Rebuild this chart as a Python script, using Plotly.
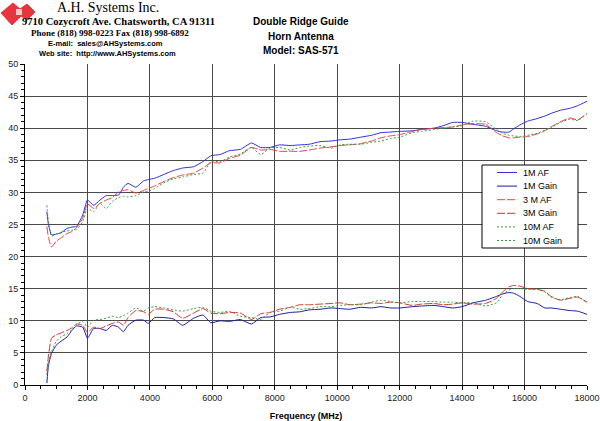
import plotly.graph_objects as go

freq = [700, 750, 850, 1000, 1150, 1350, 1500, 1650, 1850, 2000, 2200, 2400, 2600, 2800, 3000,
        3150, 3300, 3550, 3800, 3950, 4150, 4450, 4750, 5050, 5400, 5700, 5950, 6250, 6550, 6900,
        7250, 7550, 7850, 8150, 8500, 8800, 9100, 9450, 9800, 10100, 10400, 10750, 11100, 11400,
        11700, 12000, 12400, 12700, 13100, 13400, 13700, 14000, 14350, 14750, 15100, 15300, 15500,
        15650, 15850, 16100, 16400, 16650, 16850, 17150, 17450, 17700, 18000]

af_1m = [27.0, 25.0, 23.4, 23.5, 23.7, 24.4, 24.6, 24.7, 26.5, 28.8, 28.0, 28.8, 29.5, 29.5, 29.6,
         30.8, 31.4, 30.8, 31.8, 32.0, 32.2, 32.8, 33.4, 33.8, 34.0, 34.8, 35.7, 35.9, 36.5, 36.7,
         37.7, 37.0, 37.0, 37.4, 37.3, 37.4, 37.5, 37.9, 38.0, 38.2, 38.3, 38.6, 38.9, 39.3,
         39.4, 39.5, 39.6, 39.8, 40.0, 40.4, 40.9, 40.9, 40.6, 40.3, 39.6, 39.4, 39.4,
         39.9, 40.5, 41.1, 41.5, 41.9, 42.3, 42.8, 43.1, 43.5, 44.2]

gain_1m = [0.3, 3.0, 4.9, 6.2, 6.8, 7.5, 8.5, 9.2, 9.0, 7.3, 8.8, 8.8, 8.5, 9.3, 9.0,
           8.3, 9.3, 10.1, 10.1, 9.6, 10.5, 10.5, 10.3, 9.3, 10.4, 10.9, 9.7, 10.0, 9.9, 10.2,
           9.5, 10.5, 10.6, 11.0, 11.3, 11.4, 11.7, 11.8, 12.0, 11.9, 11.8, 12.1, 12.0, 12.2,
           12.0, 12.0, 12.2, 12.3, 12.4, 12.2, 12.0, 12.2, 12.8, 13.2, 13.8, 14.2, 14.4,
           14.3, 13.8, 13.0, 12.7, 12.0, 12.0, 11.8, 11.6, 11.5, 11.0]

af_3m = [24.7, 23.0, 21.5, 22.4, 22.9, 23.6, 23.9, 24.5, 26.0, 28.2, 27.5, 28.3, 28.8, 29.2, 30.1,
         30.3, 30.4, 29.9, 30.3, 30.6, 31.0, 31.7, 32.3, 32.7, 33.0, 33.8, 34.6, 34.6, 35.3, 35.8,
         37.0, 36.6, 36.7, 36.4, 36.4, 36.4, 36.6, 36.9, 37.1, 37.3, 37.4, 37.6, 38.0, 38.5,
         38.8, 39.0, 39.5, 39.8, 40.0, 40.1, 40.2, 40.5, 40.7, 40.6, 39.3, 38.8, 38.5,
         38.5, 38.6, 38.7, 39.1, 39.6, 40.2, 41.0, 41.6, 41.3, 42.3]

gain_3m = [2.1, 4.5, 7.3, 7.8, 8.1, 8.5, 8.9, 9.5, 9.3, 8.2, 9.0, 8.8, 9.2, 9.6, 9.8,
           9.3, 10.5, 11.6, 11.4, 11.0, 11.8, 11.8, 11.4, 10.4, 11.2, 11.9, 11.2, 11.1, 11.3, 11.2,
           10.2, 11.1, 11.3, 11.8, 12.1, 12.5, 12.5, 12.6, 12.7, 12.8, 12.5, 12.6, 12.8, 12.7,
           12.9, 12.8, 12.4, 12.6, 12.7, 12.5, 12.6, 12.8, 12.6, 12.7, 13.5, 14.5, 15.3,
           15.5, 15.4, 15.0, 14.9, 14.6, 13.8, 13.2, 13.5, 13.7, 12.9]

af_10m = [28.0, 25.5, 23.2, 23.5, 23.8, 24.0, 24.1, 24.2, 25.5, 27.5, 27.0, 28.3, 27.5, 28.6, 29.2,
          29.4, 29.3, 29.5, 30.1, 30.2, 30.6, 31.5, 32.1, 32.4, 32.8, 33.0, 34.8, 34.8, 35.5, 36.0,
          37.0, 35.9, 36.9, 37.0, 36.6, 37.0, 37.2, 37.3, 36.9, 37.4, 37.5, 37.5, 37.8, 38.0,
          38.4, 38.6, 39.3, 39.5, 39.8, 40.0, 40.2, 40.4, 41.1, 41.0, 39.8, 39.2, 38.9,
          38.8, 38.7, 38.9, 39.2, 39.7, 40.1, 40.9, 41.4, 41.2, 42.2]

gain_10m = [1.6, 3.5, 5.2, 6.8, 7.5, 8.0, 8.6, 9.4, 9.9, 9.0, 10.1, 10.2, 10.4, 10.7, 10.5,
            10.8, 11.2, 12.0, 11.5, 12.0, 12.2, 12.0, 11.7, 11.5, 11.9, 12.1, 11.5, 11.3, 11.5, 10.7,
            10.5, 10.2, 11.3, 11.5, 12.1, 11.8, 11.9, 12.2, 12.2, 12.4, 12.5, 12.5, 12.9, 13.2,
            13.0, 12.8, 13.0, 13.0, 13.0, 12.9, 12.9, 12.8, 12.8, 12.3, 12.8, 14.1, 14.8,
            15.0, 15.0, 14.9, 14.9, 14.5, 13.7, 13.3, 13.6, 13.8, 12.8]

series_names = ["1M AF", "1M Gain", "3 M AF", "3M Gain", "10M AF", "10M Gain"]
series_values = [af_1m, gain_1m, af_3m, gain_3m, af_10m, gain_10m]
series_colors = ["#3030e0", "#1c1ca8", "#e84040", "#d83030", "#3c9a3c", "#3c9a3c"]
series_dash = ["solid", "solid", "8px,2px", "8px,2px", "2px,2px", "2px,2px"]

x_ticks = [0, 2000, 4000, 6000, 8000, 10000, 12000, 14000, 16000, 18000]
y_ticks = [0, 5, 10, 15, 20, 25, 30, 35, 40, 45, 50]

W, H = 600, 421
ML, MR, MT, MB = 25, 13, 64, 36
PW, PH = W - ML - MR, H - MT - MB


def px(x):
    return (x - ML) / PW


def py(y):
    return (H - MB - y) / PH


fig = go.Figure()
for name, vals, col, dash in zip(series_names, series_values, series_colors, series_dash):
    fig.add_trace(go.Scatter(x=freq, y=vals, name=name, mode="lines", showlegend=False,
                             line=dict(color=col, width=1, dash=dash, shape="spline", smoothing=0.5)))

SANS = "Liberation Sans, Arial, sans-serif"
SERIF = "Liberation Serif, Times New Roman, serif"

annotations = [
    dict(text="A.H. Systems Inc.", x=px(108), y=py(8), font=dict(family=SERIF, size=14, color="#000")),
    dict(text="<b>9710 Cozycroft Ave. Chatsworth, CA 91311</b>", x=px(118), y=py(22),
         font=dict(family=SERIF, size=10.5, color="#000")),
    dict(text="<b>Phone (818) 998-0223 Fax (818) 998-6892</b>", x=px(110), y=py(33),
         font=dict(family=SERIF, size=9, color="#000")),
    dict(text="<b>E-mail:  sales@AHSystems.com</b>", x=px(105), y=py(43),
         font=dict(family=SANS, size=7.5, color="#000")),
    dict(text="<b>Web site:  http://www.AHSystems.com</b>", x=px(107), y=py(53),
         font=dict(family=SANS, size=7.5, color="#000")),
    dict(text="<b>Double Ridge Guide</b>", x=px(301), y=py(22), font=dict(family=SANS, size=10, color="#000")),
    dict(text="<b>Horn Antenna</b>", x=px(301), y=py(36), font=dict(family=SANS, size=10, color="#000")),
    dict(text="<b>Model: SAS-571</b>", x=px(301), y=py(50), font=dict(family=SANS, size=10, color="#000")),
]
for a in annotations:
    a.update(xref="paper", yref="paper", showarrow=False, xanchor="center", yanchor="middle")

logo_pts = [(1, 13), (13, 3), (20, 9), (27, 4), (35, 12), (27, 20), (21, 16), (12, 25)]
logo_path = "M " + " L ".join(f"{px(a):.4f},{py(b):.4f}" for a, b in logo_pts) + " Z"
shapes = [dict(type="path", path=logo_path, xref="paper", yref="paper",
               fillcolor="#e8343c", line=dict(color="#e8343c", width=1)),
          dict(type="rect", xref="paper", yref="paper", x0=px(16), x1=px(22), y0=py(9), y1=py(15),
               fillcolor="#f4c8c8", line=dict(width=0))]

# manual legend (compact, like the reference)
LX0, LX1, LY0, LY1 = 482, 578, 165, 248
shapes.append(dict(type="rect", xref="paper", yref="paper", x0=px(LX0), x1=px(LX1), y0=py(LY1), y1=py(LY0),
                   fillcolor="white", line=dict(color="#000", width=1), layer="above"))
for i, (name, col, dash) in enumerate(zip(series_names, series_colors, series_dash)):
    yy = 172.5 + i * 13.6
    shapes.append(dict(type="line", xref="paper", yref="paper", x0=px(497), x1=px(517), y0=py(yy), y1=py(yy),
                       line=dict(color=col, width=1, dash=dash), layer="above"))
    annotations.append(dict(text=name, xref="paper", yref="paper", x=px(521), y=py(yy), xanchor="left",
                            yanchor="middle", showarrow=False, font=dict(family=SANS, size=9, color="#000")))

axis_common = dict(showgrid=True, gridcolor="#4a4a4a", gridwidth=1, showline=True, linecolor="#000",
                   linewidth=1, ticks="outside", ticklen=4, tickcolor="#000", automargin=False,
                   tickfont=dict(family=SANS, size=9, color="#222"), zeroline=False)

fig.update_layout(
    width=W, height=H, margin=dict(l=ML, r=MR, t=MT, b=MB),
    paper_bgcolor="white", plot_bgcolor="white",
    xaxis=dict(range=[0, 18000], tickvals=x_ticks, ticktext=[str(v) for v in x_ticks],
               minor=dict(dtick=500, ticks="outside", ticklen=3, tickcolor="#000", showgrid=False),
               title=dict(text="<b>Frequency (MHz)</b>", font=dict(family=SANS, size=9, color="#000"), standoff=10),
               **axis_common),
    yaxis=dict(range=[0, 50], tickvals=y_ticks, ticktext=[str(v) for v in y_ticks],
               minor=dict(dtick=1, ticks="outside", ticklen=3, tickcolor="#000", showgrid=False),
               **axis_common),
    annotations=annotations,
    shapes=shapes,
    showlegend=False,
)

fig.write_html("out.html")
